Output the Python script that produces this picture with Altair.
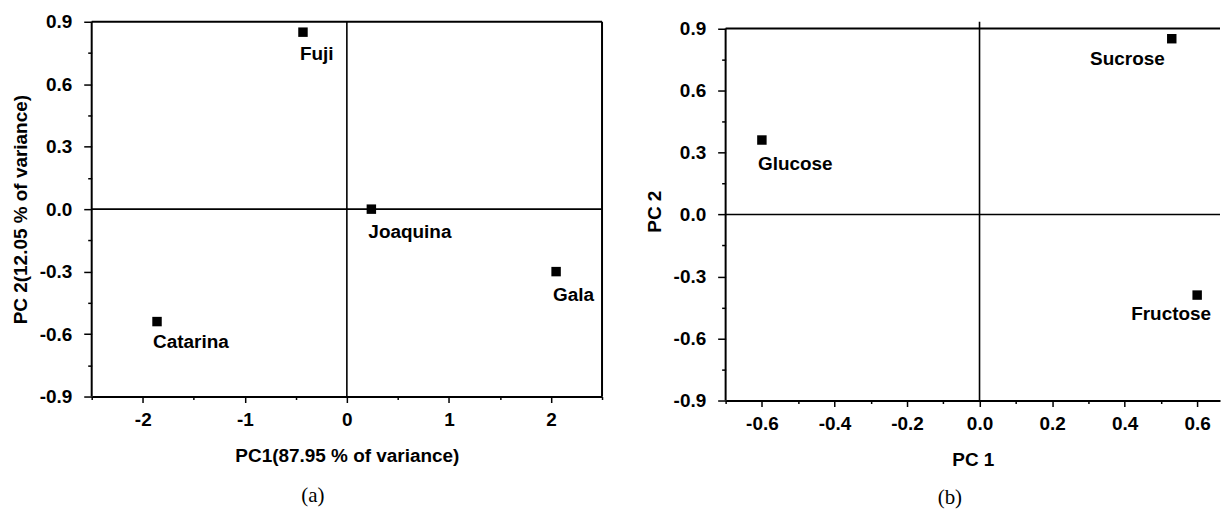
import altair as alt
import pandas as pd

# ---- data ----
apple_names = ["Fuji", "Joaquina", "Gala", "Catarina"]
apple_pc1 = [-0.43, 0.24, 2.05, -1.86]
apple_pc2 = [0.85, 0.00, -0.30, -0.54]

sugar_names = ["Sucrose", "Glucose", "Fructose"]
sugar_pc1 = [0.53, -0.60, 0.60]
sugar_pc2 = [0.85, 0.36, -0.39]

left_x_ticks = [-2.5, -2, -1.5, -1, -0.5, 0, 0.5, 1, 1.5, 2, 2.5]
right_x_ticks = [-0.7, -0.6, -0.5, -0.4, -0.3, -0.2, -0.1, 0.0, 0.1, 0.2, 0.3, 0.4, 0.5, 0.6]
y_ticks = [-0.9, -0.75, -0.6, -0.45, -0.3, -0.15, 0.0, 0.15, 0.3, 0.45, 0.6, 0.75, 0.9]

x_titles = ["PC1(87.95 % of variance)", "PC 1"]
y_titles = ["PC 2(12.05 % of variance)", "PC 2"]
captions = ["(a)", "(b)"]

FONT = "Liberation Sans"
MINUS = "\u2212"

# label placement styles (align, dx, dy)
LEFT_STYLE = {
    "Fuji": ("left", -3, 22),
    "Joaquina": ("left", -3, 23),
    "Gala": ("left", -3, 23),
    "Catarina": ("left", -4, 21),
}
RIGHT_STYLE = {
    "Sucrose": ("right", -7, 20),
    "Glucose": ("left", -4, 24),
    "Fructose": ("right", 14, 19),
}

Y_TEST = "abs(datum.value/0.3 - round(datum.value/0.3)) < 0.01"


def make_axis(title, values, test, fmt, major, minor, label_pad, title_pad, domain=True):
    return alt.Axis(
        title=title,
        values=values,
        labelExpr=f"({test}) ? replace(format(datum.value, '{fmt}'), '{MINUS}', '-') : ''",
        tickSize={"condition": {"test": test, "value": major}, "value": minor},
        labelPadding=label_pad,
        titlePadding=title_pad,
        labelOverlap=False,
        labelFlush=False,
        grid=False,
        domain=domain,
    )


def panel(names, pc1, pc2, xdom, ytop, xticks, xtest, xfmt, xtitle, ytitle,
          w, h, styles, caption, cap_x, cap_y, right_frame):
    df = pd.DataFrame({"name": names, "pc1": pc1, "pc2": pc2})
    xscale = alt.Scale(domain=xdom, nice=False, zero=False)
    yscale = alt.Scale(domain=[-0.9, ytop], nice=False, zero=False)
    xaxis = make_axis(xtitle, xticks, xtest, xfmt, 6, 3, 8, 17)
    yaxis = make_axis(ytitle, y_ticks, Y_TEST, ".1f", 8, 4, 12, 9, domain=False)
    x = alt.X("pc1:Q", scale=xscale, axis=xaxis)
    y = alt.Y("pc2:Q", scale=yscale, axis=yaxis)
    base = alt.Chart(df)
    one = alt.Chart(pd.DataFrame({"caption": [caption], "lo": [-0.9], "hi": [0.9],
                                  "zero": [0.0], "edge": [right_frame if right_frame is not None else 0.0]}))

    layers = []
    layers.append(base.mark_square(size=90, color="black", opacity=1, filled=True).encode(x=x, y=y))
    # left frame line (y axis line), limited to the -0.9..0.9 range
    layers.append(one.mark_rule(color="black", strokeWidth=2).encode(
        x=alt.value(0), y=alt.Y("lo:Q", scale=yscale, axis=yaxis), y2="hi:Q"))
    layers.append(one.mark_rule(color="black", strokeWidth=1.6).encode(
        x=alt.X("zero:Q", scale=xscale, axis=xaxis)))
    layers.append(one.mark_rule(color="black", strokeWidth=1.6).encode(
        y=alt.Y("zero:Q", scale=yscale, axis=yaxis)))
    layers.append(one.mark_rule(color="black", strokeWidth=2).encode(
        y=alt.Y("hi:Q", scale=yscale, axis=yaxis)))
    if right_frame is not None:
        layers.append(one.mark_rule(color="black", strokeWidth=2).encode(
            x=alt.X("edge:Q", scale=xscale, axis=xaxis),
            y=alt.Y("lo:Q", scale=yscale, axis=yaxis), y2="hi:Q"))
    for n, (al, dx, dy) in styles.items():
        layers.append(
            base.transform_filter(alt.datum.name == n)
            .mark_text(align=al, baseline="middle", dx=dx, dy=dy, font=FONT,
                       fontSize=19, fontWeight="bold", color="black")
            .encode(x=x, y=y, text="name:N")
        )
    layers.append(one.mark_text(font="Liberation Serif", fontSize=21, color="black",
                                align="center", baseline="middle").encode(
        x=alt.value(cap_x), y=alt.value(cap_y), text="caption:N"))
    return alt.layer(*layers).properties(width=w, height=h)


left = panel(apple_names, apple_pc1, apple_pc2, [-2.5, 2.5], 0.9, left_x_ticks,
             "abs(datum.value - round(datum.value)) < 0.01", "d", x_titles[0], y_titles[0],
             512, 376, LEFT_STYLE, captions[0], 222, 476, 2.5)
right = panel(sugar_names, sugar_pc1, sugar_pc2, [-0.7, 0.663], 0.932, right_x_ticks,
              "abs(datum.value*5 - round(datum.value*5)) < 0.01", ".1f", x_titles[1], y_titles[1],
              496, 380, RIGHT_STYLE, captions[1], 225, 478, None)

chart = (
    alt.hconcat(left, right, spacing=42)
    .properties(padding={"left": 11, "top": 12, "right": 0, "bottom": 0}, background="white")
    .configure_view(stroke="transparent", strokeWidth=0)
    .configure_axis(
        domainColor="black", domainWidth=2, tickColor="black", tickWidth=1.5,
        labelFont=FONT, labelFontSize=19, labelFontWeight="bold", labelColor="black",
        titleFont=FONT, titleFontSize=19, titleFontWeight="bold", titleColor="black",
    )
)

chart.save("out.html", embed_options={"renderer": "svg", "actions": False})
